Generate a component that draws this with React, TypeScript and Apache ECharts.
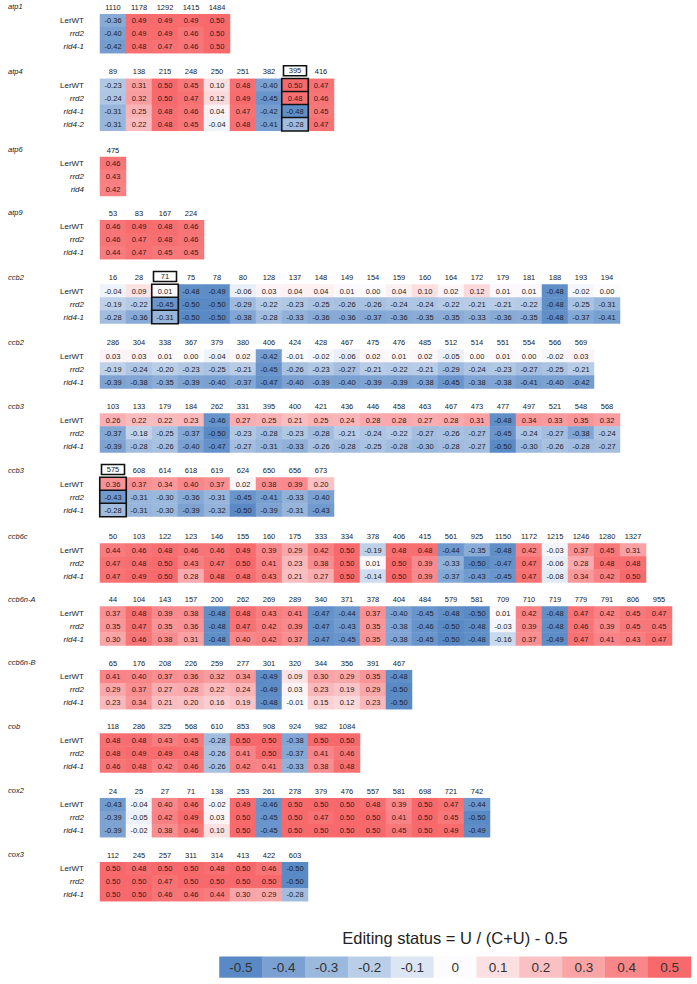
import React, { useEffect, useRef } from 'react';
import * as echarts from 'echarts';

// ---------- DATA ----------
const ROWS_3 = ['LerWT', 'rrd2', 'rid4-1'];
const ROWS_ATP4 = ['LerWT', 'rrd2', 'rid4-1', 'rid4-2'];
const ROWS_ATP6 = ['LerWT', 'rrd2', 'rid4'];

const ATP1_SITES = [1110, 1178, 1292, 1415, 1484];
const ATP1_VALUES = [
  [-0.36, 0.49, 0.49, 0.49, 0.5],
  [-0.4, 0.49, 0.49, 0.46, 0.5],
  [-0.42, 0.48, 0.47, 0.46, 0.5],
];

const ATP4_SITES = [89, 138, 215, 248, 250, 251, 382, 395, 416];
const ATP4_VALUES = [
  [-0.23, 0.31, 0.5, 0.45, 0.1, 0.48, -0.4, 0.5, 0.47],
  [-0.24, 0.32, 0.5, 0.47, 0.12, 0.49, -0.45, 0.48, 0.46],
  [-0.31, 0.25, 0.48, 0.46, 0.04, 0.47, -0.42, -0.48, 0.45],
  [-0.31, 0.22, 0.48, 0.45, -0.04, 0.48, -0.41, -0.28, 0.47],
];

const ATP6_SITES = [475];
const ATP6_VALUES = [[0.46], [0.43], [0.42]];

const ATP9_SITES = [53, 83, 167, 224];
const ATP9_VALUES = [
  [0.46, 0.49, 0.48, 0.46],
  [0.46, 0.47, 0.48, 0.46],
  [0.44, 0.47, 0.45, 0.45],
];

const CCB2A_SITES = [16, 28, 71, 75, 78, 80, 128, 137, 148, 149, 154, 159, 160, 164, 172, 179, 181, 188, 193, 194];
const CCB2A_VALUES = [
  [-0.04, 0.09, 0.01, -0.48, -0.49, -0.06, 0.03, 0.04, 0.04, 0.01, 0.0, 0.04, 0.1, 0.02, 0.12, 0.01, 0.01, -0.48, -0.02, 0.0],
  [-0.19, -0.22, -0.45, -0.5, -0.5, -0.29, -0.22, -0.23, -0.25, -0.26, -0.26, -0.24, -0.24, -0.22, -0.21, -0.21, -0.22, -0.48, -0.25, -0.31],
  [-0.28, -0.36, -0.31, -0.5, -0.5, -0.38, -0.28, -0.33, -0.36, -0.36, -0.37, -0.36, -0.35, -0.35, -0.33, -0.36, -0.35, -0.48, -0.37, -0.41],
];

const CCB2B_SITES = [286, 304, 338, 367, 379, 380, 406, 424, 428, 467, 475, 476, 485, 512, 514, 551, 554, 566, 569];
const CCB2B_VALUES = [
  [0.03, 0.03, 0.01, 0.0, -0.04, 0.02, -0.42, -0.01, -0.02, -0.06, 0.02, 0.01, 0.02, -0.05, 0.0, 0.01, 0.0, -0.02, 0.03],
  [-0.19, -0.24, -0.2, -0.23, -0.25, -0.21, -0.45, -0.26, -0.23, -0.27, -0.21, -0.22, -0.21, -0.29, -0.24, -0.23, -0.27, -0.25, -0.21],
  [-0.39, -0.38, -0.35, -0.39, -0.4, -0.37, -0.47, -0.4, -0.39, -0.4, -0.39, -0.39, -0.38, -0.45, -0.38, -0.38, -0.41, -0.4, -0.42],
];

const CCB3A_SITES = [103, 133, 179, 184, 262, 331, 395, 400, 421, 436, 446, 458, 463, 467, 473, 477, 497, 521, 548, 568];
const CCB3A_VALUES = [
  [0.26, 0.22, 0.22, 0.23, -0.46, 0.27, 0.25, 0.21, 0.25, 0.24, 0.28, 0.28, 0.27, 0.28, 0.31, -0.48, 0.34, 0.33, 0.35, 0.32],
  [-0.37, -0.18, -0.25, -0.37, -0.5, -0.23, -0.28, -0.23, -0.28, -0.21, -0.24, -0.22, -0.27, -0.26, -0.27, -0.45, -0.24, -0.27, -0.38, -0.24],
  [-0.39, -0.28, -0.26, -0.4, -0.47, -0.27, -0.31, -0.33, -0.26, -0.28, -0.25, -0.28, -0.3, -0.28, -0.27, -0.5, -0.3, -0.26, -0.28, -0.27],
];

const CCB3B_SITES = [575, 608, 614, 618, 619, 624, 650, 656, 673];
const CCB3B_VALUES = [
  [0.36, 0.37, 0.34, 0.4, 0.37, 0.02, 0.38, 0.39, 0.2],
  [-0.43, -0.31, -0.3, -0.36, -0.31, -0.45, -0.41, -0.33, -0.4],
  [-0.28, -0.31, -0.3, -0.39, -0.32, -0.5, -0.39, -0.31, -0.43],
];

const CCB6C_SITES = [50, 103, 122, 123, 146, 155, 160, 175, 333, 334, 378, 406, 415, 561, 925, 1150, 1172, 1215, 1246, 1280, 1327];
const CCB6C_VALUES = [
  [0.44, 0.46, 0.48, 0.46, 0.46, 0.49, 0.39, 0.29, 0.42, 0.5, -0.19, 0.48, 0.48, -0.44, -0.35, -0.48, 0.42, -0.03, 0.37, 0.45, 0.31],
  [0.47, 0.48, 0.5, 0.43, 0.47, 0.5, 0.41, 0.23, 0.38, 0.5, 0.01, 0.5, 0.39, -0.33, -0.5, -0.47, 0.47, -0.06, 0.28, 0.48, 0.48],
  [0.47, 0.49, 0.5, 0.28, 0.48, 0.48, 0.43, 0.21, 0.27, 0.5, -0.14, 0.5, 0.39, -0.37, -0.43, -0.45, 0.47, -0.08, 0.34, 0.42, 0.5],
];

const CCB6NA_SITES = [44, 104, 143, 157, 200, 262, 269, 289, 340, 371, 378, 404, 484, 579, 581, 709, 710, 719, 779, 791, 806, 955];
const CCB6NA_VALUES = [
  [0.37, 0.48, 0.39, 0.38, -0.48, 0.48, 0.43, 0.41, -0.47, -0.44, 0.37, -0.4, -0.45, -0.48, -0.5, 0.01, 0.42, -0.48, 0.47, 0.42, 0.45, 0.47],
  [0.35, 0.47, 0.35, 0.36, -0.48, 0.47, 0.42, 0.39, -0.47, -0.43, 0.35, -0.38, -0.46, -0.5, -0.48, -0.03, 0.39, -0.48, 0.46, 0.39, 0.45, 0.45],
  [0.3, 0.46, 0.38, 0.31, -0.48, 0.4, 0.42, 0.37, -0.47, -0.45, 0.35, -0.38, -0.45, -0.5, -0.48, -0.16, 0.37, -0.49, 0.47, 0.41, 0.43, 0.47],
];

const CCB6NB_SITES = [65, 176, 208, 226, 259, 277, 301, 320, 344, 356, 391, 467];
const CCB6NB_VALUES = [
  [0.41, 0.4, 0.37, 0.36, 0.32, 0.34, -0.49, 0.09, 0.3, 0.29, 0.35, -0.48],
  [0.29, 0.37, 0.27, 0.28, 0.22, 0.24, -0.49, 0.03, 0.23, 0.19, 0.29, -0.5],
  [0.23, 0.34, 0.21, 0.2, 0.16, 0.19, -0.48, -0.01, 0.15, 0.12, 0.23, -0.5],
];

const COB_SITES = [118, 286, 325, 568, 610, 853, 908, 924, 982, 1084];
const COB_VALUES = [
  [0.48, 0.48, 0.43, 0.45, -0.28, 0.5, 0.5, -0.38, 0.5, 0.5],
  [0.48, 0.49, 0.49, 0.48, -0.26, 0.41, 0.5, -0.37, 0.41, 0.46],
  [0.46, 0.48, 0.42, 0.46, -0.26, 0.42, 0.41, -0.33, 0.38, 0.48],
];

const COX2_SITES = [24, 25, 27, 71, 138, 253, 261, 278, 379, 476, 557, 581, 698, 721, 742];
const COX2_VALUES = [
  [-0.43, -0.04, 0.4, 0.46, -0.02, 0.49, -0.46, 0.5, 0.5, 0.5, 0.48, 0.39, 0.5, 0.47, -0.44],
  [-0.39, -0.05, 0.42, 0.49, 0.03, 0.5, -0.45, 0.5, 0.47, 0.5, 0.5, 0.41, 0.5, 0.45, -0.5],
  [-0.39, -0.02, 0.38, 0.46, 0.1, 0.5, -0.45, 0.5, 0.5, 0.5, 0.5, 0.45, 0.5, 0.49, -0.49],
];

const COX3_SITES = [112, 245, 257, 311, 314, 413, 422, 603];
const COX3_VALUES = [
  [0.5, 0.48, 0.5, 0.5, 0.48, 0.5, 0.46, -0.5],
  [0.5, 0.5, 0.47, 0.5, 0.5, 0.5, 0.5, -0.5],
  [0.5, 0.5, 0.46, 0.46, 0.44, 0.3, 0.29, -0.28],
];

const LEGEND_VALUES = [-0.5, -0.4, -0.3, -0.2, -0.1, 0, 0.1, 0.2, 0.3, 0.4, 0.5];
const LEGEND_LABELS = ['-0.5', '-0.4', '-0.3', '-0.2', '-0.1', '0', '0.1', '0.2', '0.3', '0.4', '0.5'];
const LEGEND_TITLE = 'Editing status = U / (C+U) - 0.5';

const PANELS = [
  { gene: 'atp1', rows: ROWS_3, sites: ATP1_SITES, values: ATP1_VALUES, highlight: null as number | null },
  { gene: 'atp4', rows: ROWS_ATP4, sites: ATP4_SITES, values: ATP4_VALUES, highlight: 395 },
  { gene: 'atp6', rows: ROWS_ATP6, sites: ATP6_SITES, values: ATP6_VALUES, highlight: null },
  { gene: 'atp9', rows: ROWS_3, sites: ATP9_SITES, values: ATP9_VALUES, highlight: null },
  { gene: 'ccb2', rows: ROWS_3, sites: CCB2A_SITES, values: CCB2A_VALUES, highlight: 71 },
  { gene: 'ccb2', rows: ROWS_3, sites: CCB2B_SITES, values: CCB2B_VALUES, highlight: null },
  { gene: 'ccb3', rows: ROWS_3, sites: CCB3A_SITES, values: CCB3A_VALUES, highlight: null },
  { gene: 'ccb3', rows: ROWS_3, sites: CCB3B_SITES, values: CCB3B_VALUES, highlight: 575 },
  { gene: 'ccb6c', rows: ROWS_3, sites: CCB6C_SITES, values: CCB6C_VALUES, highlight: null },
  { gene: 'ccb6n-A', rows: ROWS_3, sites: CCB6NA_SITES, values: CCB6NA_VALUES, highlight: null },
  { gene: 'ccb6n-B', rows: ROWS_3, sites: CCB6NB_SITES, values: CCB6NB_VALUES, highlight: null },
  { gene: 'cob', rows: ROWS_3, sites: COB_SITES, values: COB_VALUES, highlight: null },
  { gene: 'cox2', rows: ROWS_3, sites: COX2_SITES, values: COX2_VALUES, highlight: null },
  { gene: 'cox3', rows: ROWS_3, sites: COX3_SITES, values: COX3_VALUES, highlight: null },
];

// ---------- LAYOUT ----------
const W = 697;
const H = 984;
const FONT = '"Liberation Sans", Arial, Helvetica, sans-serif';
const GRID_LEFT = 100;
const CELL_W = 26;
const CELL_H = 13;
const PANEL_TOPS = [14.2, 78.8, 157, 220.2, 284.5, 349.5, 413.5, 477.5, 543.5, 606.5, 670.2, 733.5, 798.2, 862.2];
const TEXT = '#222';

export default function App() {
  const ref = useRef<HTMLDivElement>(null);

  useEffect(() => {
    if (!ref.current) return;
    const chart = echarts.init(ref.current, null, { renderer: 'svg' });

    const grids: any[] = [];
    const xAxes: any[] = [];
    const yAxes: any[] = [];
    const series: any[] = [];
    const graphics: any[] = [];

    PANELS.forEach((p, i) => {
      const top = PANEL_TOPS[i];
      const hl = p.highlight == null ? null : String(p.highlight);
      grids.push({ left: GRID_LEFT, top, width: p.sites.length * CELL_W, height: p.rows.length * CELL_H });
      xAxes.push({
        type: 'category',
        gridIndex: i,
        position: 'top',
        data: p.sites.map(String),
        axisLine: { show: false },
        axisTick: { show: false },
        splitLine: { show: false },
        axisLabel: {
          interval: 0,
          margin: 3,
          fontSize: 7.5,
          color: TEXT,
          fontFamily: FONT,
          formatter: (v: string) => (v === hl ? `{b|${v}}` : v),
          rich: {
            b: {
              fontSize: 7.5,
              fontFamily: FONT,
              color: TEXT,
              width: 23,
              height: 10,
              lineHeight: 10,
              align: 'center',
              borderColor: '#111',
              borderWidth: 1.6,
            },
          },
        },
      });
      yAxes.push({
        type: 'category',
        gridIndex: i,
        inverse: true,
        data: p.rows,
        axisLine: { show: false },
        axisTick: { show: false },
        splitLine: { show: false },
        axisLabel: {
          interval: 0,
          margin: 16,
          formatter: (v: string) => (v === 'LerWT' ? `{n|${v}}` : `{i|${v}}`),
          rich: {
            n: { fontSize: 8, fontFamily: FONT, color: TEXT },
            i: { fontSize: 8, fontFamily: FONT, color: TEXT, fontStyle: 'italic' },
          },
        },
      });
      const normal: any[] = [];
      const boxed: any[] = [];
      p.values.forEach((row, r) =>
        row.forEach((v, c) => {
          if (String(p.sites[c]) === hl) {
            boxed.push({ value: [c, r, v], itemStyle: { borderColor: '#111', borderWidth: 1.6 } });
          } else {
            normal.push({ value: [c, r, v] });
          }
        })
      );
      series.push({
        type: 'heatmap',
        xAxisIndex: i,
        yAxisIndex: i,
        data: [...normal, ...boxed],
        label: {
          show: true,
          fontSize: 7.5,
          fontFamily: FONT,
          color: TEXT,
          formatter: (q: any) => Number(q.value[2]).toFixed(2),
        },
        emphasis: { disabled: true },
      });
      graphics.push({
        type: 'text',
        x: 8,
        y: top - 7.5,
        style: {
          text: p.gene,
          fontSize: 7.5,
          fontStyle: 'italic',
          fontFamily: FONT,
          fill: TEXT,
          align: 'left',
          verticalAlign: 'middle',
        },
      });
    });

    // legend colour bar (as a heatmap through the same visualMap)
    const li = PANELS.length;
    grids.push({ left: 219.5, top: 956.7, width: 471.5, height: 20.8 });
    xAxes.push({ type: 'category', gridIndex: li, data: LEGEND_LABELS, show: false });
    yAxes.push({ type: 'category', gridIndex: li, data: [''], show: false });
    series.push({
      type: 'heatmap',
      xAxisIndex: li,
      yAxisIndex: li,
      data: LEGEND_VALUES.map((v, k) => [k, 0, v]),
      label: {
        show: true,
        fontSize: 13.5,
        fontFamily: FONT,
        color: '#333',
        formatter: (q: any) => LEGEND_LABELS[q.dataIndex],
      },
      emphasis: { disabled: true },
    });
    graphics.push({
      type: 'text',
      x: 455,
      y: 938,
      style: {
        text: LEGEND_TITLE,
        fontSize: 16.5,
        fontFamily: FONT,
        fill: TEXT,
        align: 'center',
        verticalAlign: 'middle',
      },
    });

    chart.setOption({
      animation: false,
      backgroundColor: '#fff',
      grid: grids,
      xAxis: xAxes,
      yAxis: yAxes,
      visualMap: {
        type: 'continuous',
        show: false,
        min: -0.5,
        max: 0.5,
        dimension: 2,
        seriesIndex: series.map((_, k) => k),
        inRange: { color: ['#5A8AC6', '#FCFCFF', '#F8696B'] },
      },
      series,
      graphic: graphics,
    });

    return () => chart.dispose();
  }, []);

  return (
    <div
      ref={ref}
      style={{ position: 'fixed', left: 0, top: 0, width: W, height: H, background: '#fff' }}
    />
  );
}
